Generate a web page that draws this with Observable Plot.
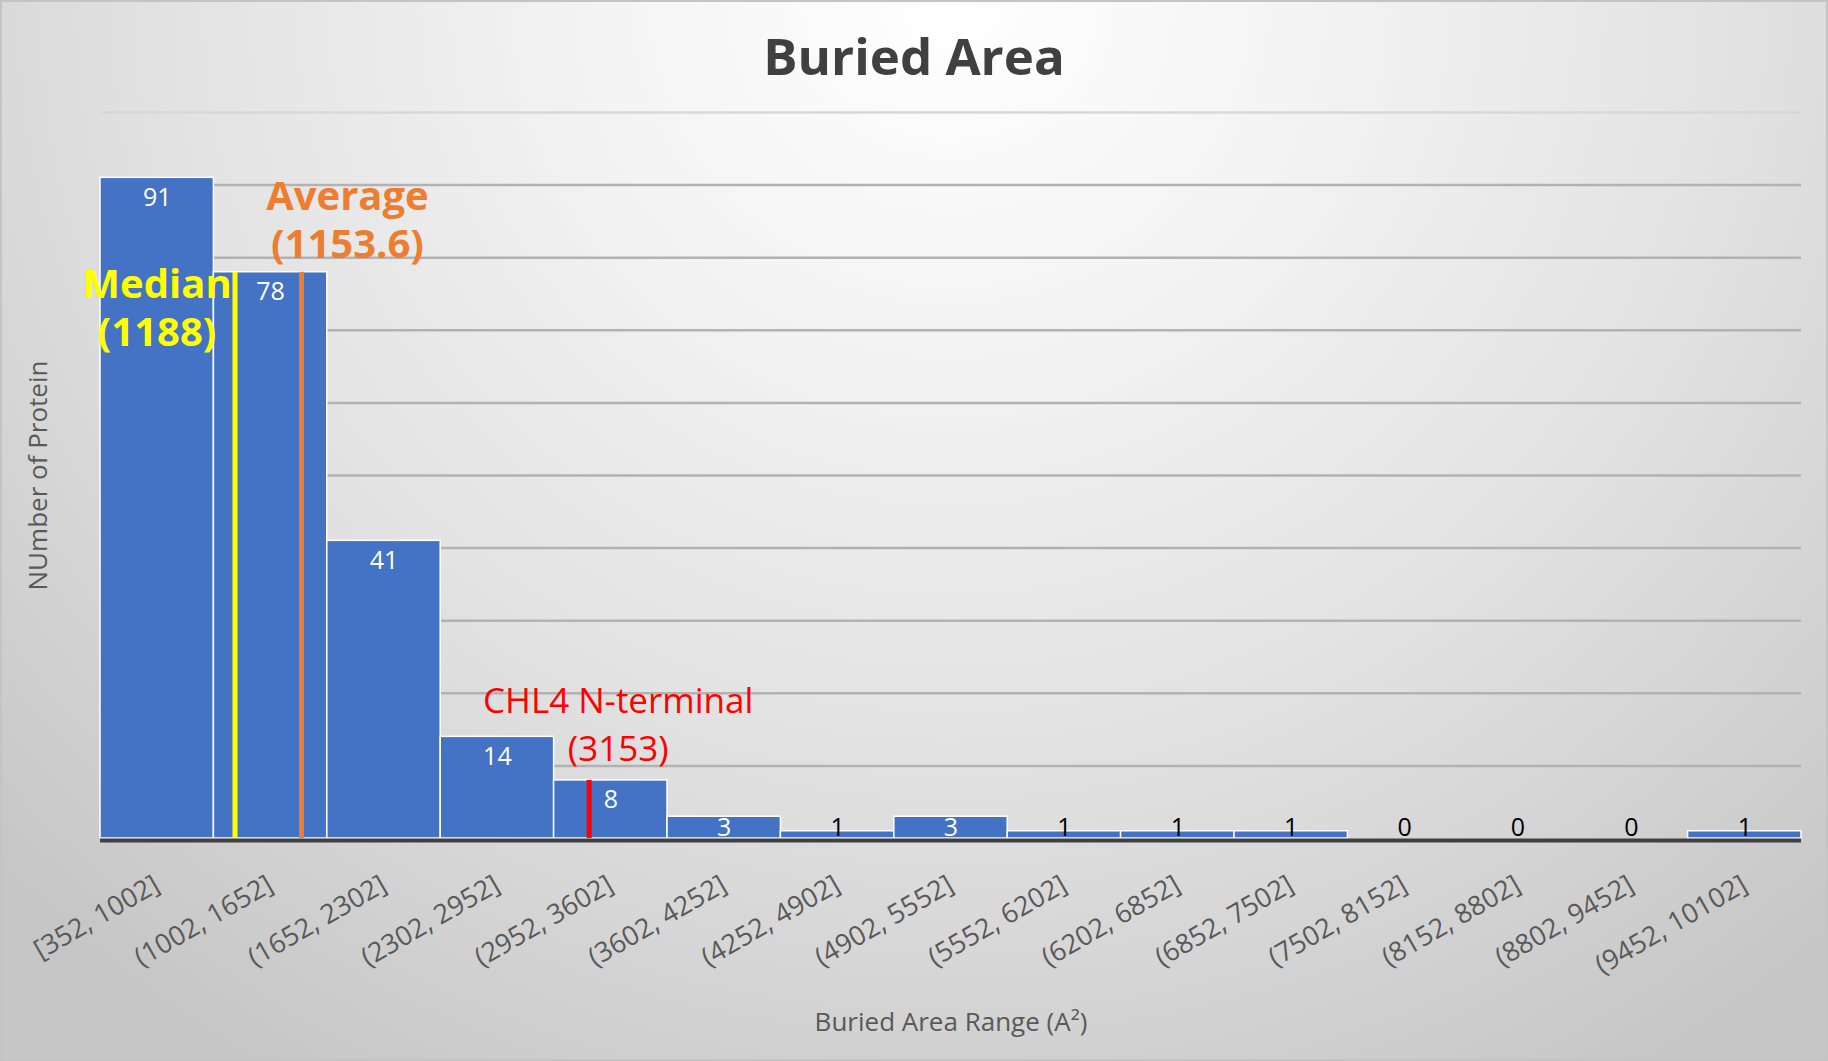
<!DOCTYPE html>
<html>
<head>
<meta charset="utf-8">
<script src="https://cdn.jsdelivr.net/npm/d3@7"></script>
<script src="https://cdn.jsdelivr.net/npm/@observablehq/plot@0.6"></script>
<style>
  body { margin: 0; }
  #wrap {
    position: relative; width: 1828px; height: 1061px; overflow: hidden;
    background: radial-gradient(ellipse 72% 118% at 52% 0%, #ffffff 0%, #f3f3f3 28%, #e2e2e2 60%, #c6c6c6 100%);
    font-family: "Open Sans", sans-serif;
  }
  #title {
    font: bold 51px "Open Sans", sans-serif;
    height: 90px; line-height: 111px; text-align: center;
    color: #404040; overflow: visible;
  }
  #frame {
    position: absolute; inset: 0; pointer-events: none;
    box-shadow: inset 0 0 0 2px #c4c4c4;
  }
  svg { display: block; }
</style>
</head>
<body>
<div id="wrap">
  <div id="title">Buried Area</div>
  <div id="chart"></div>
  <div id="frame"></div>
</div>
<script>
// ---- data ----
const binLabels = ["[352, 1002]", "(1002, 1652]", "(1652, 2302]", "(2302, 2952]", "(2952, 3602]",
  "(3602, 4252]", "(4252, 4902]", "(4902, 5552]", "(5552, 6202]", "(6202, 6852]",
  "(6852, 7502]", "(7502, 8152]", "(8152, 8802]", "(8802, 9452]", "(9452, 10102]"];
const binStart = [352, 1002, 1652, 2302, 2952, 3602, 4252, 4902, 5552, 6202, 6852, 7502, 8152, 8802, 9452];
const binEnd = [1002, 1652, 2302, 2952, 3602, 4252, 4902, 5552, 6202, 6852, 7502, 8152, 8802, 9452, 10102];
const counts = [91, 78, 41, 14, 8, 3, 1, 3, 1, 1, 1, 0, 0, 0, 1];
const gridValues = [10, 20, 30, 40, 50, 60, 70, 80, 90, 100];

// marker lines (position) and their labels
const markerNames = ["Median", "Average", "CHL4 N-terminal"];
const markerLabels = ["Median\n(1188)", "Average\n(1153.6)", "CHL4 N-terminal\n(3153)"];
const markerPos = [1123, 1504, 3153];
const markerTop = [78, 78, 8];

const xTitle = "Buried Area Range (A²)";
const yTitle = "NUmber of Protein";

// ---- tables ----
const bins = binLabels.map((label, i) => ({label, lo: binStart[i], hi: binEnd[i], count: counts[i]}));
const markers = markerNames.map((name, i) => ({name, label: markerLabels[i], pos: markerPos[i], top: markerTop[i]}));
const markerColor = {"Median": "#FFFF00", "Average": "#ED7D31", "CHL4 N-terminal": "#FF0000"};

const chart = Plot.plot({
  width: 1828,
  height: 971,
  marginTop: 22,
  marginBottom: 223,
  marginLeft: 100,
  marginRight: 27,
  style: {background: "transparent", fontFamily: "Open Sans, sans-serif", overflow: "visible"},
  x: {domain: [binStart[0], binEnd[binEnd.length - 1]], axis: null},
  y: {domain: [0, 100], axis: null},
  marks: [
    // gridlines
    Plot.ruleY(gridValues, {stroke: d => d === 100 ? "#d8d8d8" : "#b2b2b2", strokeWidth: 2.5}),
    // bars
    Plot.rectY(bins, {x1: "lo", x2: "hi", y1: 0, y2: "count", fill: "#4472C4", stroke: "white", strokeWidth: 1.5}),
    // baseline
    Plot.ruleY([0], {stroke: "#404040", strokeWidth: 4, dy: 2}),
    // marker lines
    Plot.ruleX(markers, {x: "pos", y1: 0, y2: "top", stroke: d => markerColor[d.name], strokeWidth: 5}),
    // value labels
    Plot.text(bins, {
      x: d => (d.lo + d.hi) / 2,
      y: d => Math.max(d.count - 2.75, 1.5),
      text: d => String(d.count),
      fill: d => d.count >= 3 ? "white" : "black",
      fontSize: 25
    }),
    // tick labels
    Plot.text(bins, {
      x: d => (d.lo + d.hi) / 2,
      frameAnchor: "bottom",
      text: "label",
      rotate: -30,
      textAnchor: "end",
      lineAnchor: "middle",
      dy: 44,
      fontSize: 27,
      fill: "#595959"
    }),
    // annotations
    Plot.text(markers.filter(d => d.name === "Median"), {
      x: "pos", y: "top", text: "label", dx: -78, dy: 34,
      fill: "#FFFF00", fontSize: 40, fontWeight: "bold", lineHeight: 1.2, ariaLabel: "shadowed"
    }),
    Plot.text(markers.filter(d => d.name === "Average"), {
      x: "pos", y: "top", text: "label", dx: 46, dy: -54,
      fill: "#ED7D31", fontSize: 40, fontWeight: "bold", lineHeight: 1.2, ariaLabel: "shadowed"
    }),
    Plot.text(markers.filter(d => d.name === "CHL4 N-terminal"), {
      x: "pos", y: "top", text: "label", dx: 29, dy: -59,
      fill: "#FF0000", fontSize: 35, lineHeight: 1.37
    }),
    // axis titles
    Plot.text([xTitle], {frameAnchor: "bottom", lineAnchor: "middle", textAnchor: "middle", text: d => d, dy: 184, fontSize: 26, fill: "#595959"}),
    Plot.text([yTitle], {frameAnchor: "left", lineAnchor: "middle", textAnchor: "middle", text: d => d, dx: -62, rotate: -90, fontSize: 26, fill: "#595959"})
  ]
});

d3.select(chart).selectAll('g[aria-label="shadowed"]')
  .style("filter", "drop-shadow(2px 2px 2px rgba(0,0,0,0.45))");

document.getElementById("chart").appendChild(chart);
</script>
</body>
</html>
